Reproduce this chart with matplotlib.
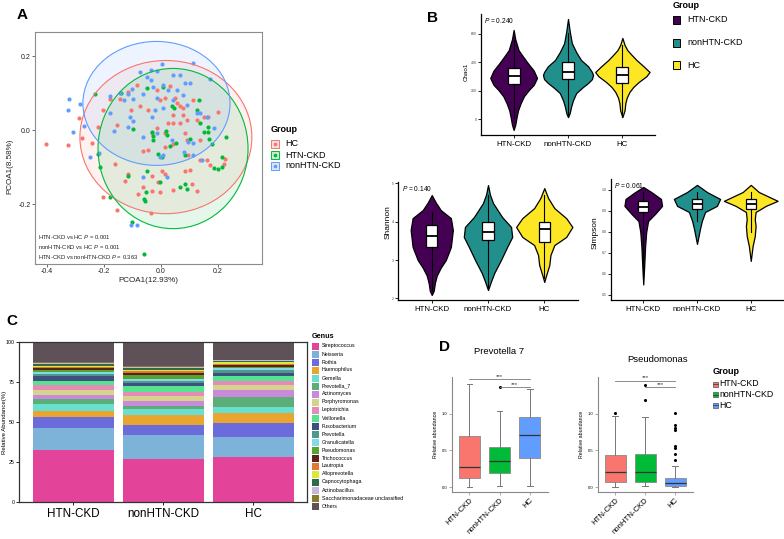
import numpy as np
import matplotlib
matplotlib.use("Agg")
import matplotlib.pyplot as plt
from matplotlib.patches import Ellipse, Rectangle

plt.rcParams['font.family'] = ['Liberation Sans', 'DejaVu Sans']
plt.rcParams['mathtext.fontset'] = 'custom'
plt.rcParams['mathtext.it'] = 'Liberation Sans:italic'
plt.rcParams['mathtext.rm'] = 'Liberation Sans'

groups = ['HTN-CKD', 'nonHTN-CKD', 'HC']

# ---- A: PCoA ----
hc_pc1 = [-0.404, -0.325, -0.288, -0.278, -0.241, -0.220, -0.202, -0.179, -0.156, -0.115,
          -0.105, -0.085, -0.074, -0.044, -0.015, -0.004, 0.014, 0.032, 0.049, 0.055,
          0.067, 0.078, 0.043, 0.076, 0.090, 0.067, 0.026, 0.014, -0.015, -0.033,
          0.014, -0.062, -0.047, 0.043, 0.084, 0.090, 0.125, 0.149, 0.166, 0.201,
          0.160, 0.172, 0.219, 0.225, 0.137, 0.096, 0.102, 0.084, 0.002, 0.014,
          -0.009, -0.004, -0.033, -0.080, -0.062, -0.126, -0.161, -0.202, -0.156, -0.035,
          0.108, 0.127, 0.043, -0.144, 0.137, 0.113, 0.043, -0.033, -0.117]
hc_pc2 = [-0.039, -0.041, 0.032, -0.021, -0.034, 0.009, 0.054, 0.084, 0.014, 0.104,
          0.054, 0.123, 0.065, 0.054, 0.107, 0.082, 0.086, 0.118, 0.086, 0.073,
          0.065, 0.059, 0.041, 0.041, 0.027, 0.018, 0.018, -0.007, 0.005, -0.009,
          -0.045, -0.056, -0.054, -0.038, -0.009, -0.027, 0.027, 0.036, 0.034, 0.050,
          -0.082, -0.095, -0.091, -0.077, -0.082, -0.068, -0.109, -0.111, -0.111, -0.118,
          -0.141, -0.168, -0.165, -0.173, -0.154, -0.138, -0.093, -0.180, -0.216, -0.225,
          -0.145, -0.166, -0.162, 0.084, -0.027, 0.082, 0.018, -0.123, -0.118]
htn_pc1 = [-0.232, -0.142, -0.050, 0.008, 0.037, 0.046, 0.133, 0.125, -0.099, -0.033,
           -0.027, -0.029, 0.016, 0.020, 0.032, 0.051, 0.084, 0.102, 0.166, 0.168,
           0.180, 0.228, 0.213, 0.215, 0.201, -0.009, 0.005, -0.048, -0.004, -0.054,
           -0.060, -0.058, -0.117, -0.179, -0.214, -0.220, 0.067, 0.084, 0.092, -0.103,
           -0.060, 0.184, 0.149, 0.166, 0.137]
htn_pc2 = [0.097, 0.100, 0.115, 0.116, 0.064, 0.059, 0.080, 0.054, 0.002, -0.006,
           -0.015, -0.027, -0.002, -0.014, -0.044, -0.036, -0.068, -0.025, 0.009, -0.025,
           -0.038, -0.018, -0.073, -0.100, -0.104, -0.065, -0.073, -0.112, -0.141, -0.168,
           -0.186, -0.191, -0.123, -0.182, -0.100, -0.064, -0.154, -0.145, -0.159, -0.248,
           -0.336, -0.102, -0.005, -0.005, 0.018]
non_pc1 = [-0.322, -0.325, -0.284, -0.269, -0.310, -0.249, -0.218, -0.179, -0.144, -0.117,
           -0.103, -0.130, -0.097, -0.109, -0.117, -0.097, -0.074, -0.064, -0.050, -0.036,
           -0.015, -0.035, -0.027, -0.015, 0.005, 0.008, 0.026, 0.041, 0.067, 0.084,
           0.055, 0.102, 0.076, 0.113, 0.172, 0.090, 0.125, 0.160, 0.043, 0.008,
           -0.021, -0.033, -0.062, -0.015, 0.008, 0.037, 0.081, 0.113, 0.113, 0.143,
           0.020, -0.062, -0.106, -0.085, -0.164, 0.137, 0.184, 0.096, -0.004, -0.179]
non_pc2 = [0.084, 0.054, 0.070, 0.011, -0.005, -0.073, -0.061, 0.091, 0.100, 0.097,
           0.112, 0.082, 0.084, 0.036, 0.009, 0.025, 0.156, 0.098, 0.143, 0.162,
           0.159, 0.136, 0.116, 0.086, 0.179, 0.123, 0.109, 0.150, 0.150, 0.127,
           0.109, 0.127, 0.095, 0.180, 0.139, 0.068, 0.045, 0.036, 0.082, 0.059,
           0.054, 0.036, -0.018, -0.009, -0.068, -0.027, -0.059, -0.035, -0.068, -0.082,
           -0.127, -0.127, -0.256, -0.256, -0.002, 0.045, 0.005, -0.032, -0.073, 0.045]
# 95% ellipses: centre x, centre y, width, height
ell_hc = (0.017, -0.019, 0.603, 0.414)
ell_htn = (0.042, -0.050, 0.526, 0.433)
ell_non = (-0.016, 0.072, 0.516, 0.335)
pcoa_tests = ['HTN-CKD vs HC $\\it{P}$ = 0.001',
              'nonHTN-CKD vs HC $\\it{P}$ = 0.001',
              'HTN-CKD vs nonHTN-CKD $\\it{P}$ = 0.363']

# ---- B: alpha diversity violins (levels and half widths) ----
chao1_levels = [[625, 560, 484, 440, 393, 340, 288, 240, 204, 160, 112, 60, 14, -40, -77],
                [702, 620, 533, 470, 414, 370, 330, 309, 280, 253, 220, 182, 130, 84, 40, 14],
                [569, 520, 484, 450, 414, 370, 330, 300, 260, 225, 190, 150, 112, 60, 14]]
chao1_halfw = [[0, 0.03, 0.09, 0.17, 0.26, 0.37, 0.43, 0.37, 0.28, 0.19, 0.13, 0.08, 0.055, 0.03, 0],
               [0, 0.03, 0.07, 0.15, 0.24, 0.37, 0.44, 0.46, 0.44, 0.37, 0.26, 0.15, 0.09, 0.055, 0.03, 0],
               [0, 0.04, 0.09, 0.17, 0.26, 0.39, 0.5, 0.44, 0.3, 0.2, 0.13, 0.08, 0.055, 0.04, 0]]
chao1_box = [(246, 302, 358, 5, 555), (281, 330, 400, 14, 604), (253, 309, 365, 14, 520)]

shannon_levels = [[4.69, 4.5, 4.30, 4.09, 3.78, 3.34, 3.0, 2.8, 2.6, 2.4, 2.2, 2.09],
                  [4.95, 4.7, 4.48, 4.12, 3.86, 3.6, 3.34, 3.0, 2.66, 2.45, 2.22],
                  [4.87, 4.61, 4.35, 4.09, 3.86, 3.60, 3.39, 3.13, 2.87, 2.61, 2.43]]
shannon_halfw = [[0, 0.07, 0.16, 0.34, 0.375, 0.34, 0.25, 0.16, 0.09, 0.055, 0.035, 0],
                 [0, 0.035, 0.09, 0.25, 0.41, 0.43, 0.34, 0.23, 0.11, 0.055, 0],
                 [0, 0.07, 0.18, 0.39, 0.5, 0.39, 0.18, 0.11, 0.09, 0.035, 0]]
shannon_box = [(3.34, 3.62, 3.91, 2.2, 4.25), (3.52, 3.73, 3.99, 2.3, 4.7), (3.47, 3.81, 3.99, 2.53, 4.69)]

simpson_levels = [[1.014, 0.99, 0.957, 0.924, 0.886, 0.852, 0.8, 0.733, 0.65, 0.55],
                  [1.024, 0.99, 0.957, 0.924, 0.895, 0.852, 0.814, 0.743],
                  [1.024, 0.99, 0.948, 0.924, 0.895, 0.86, 0.829, 0.781, 0.733, 0.662]]
simpson_halfw = [[0, 0.15, 0.33, 0.35, 0.22, 0.09, 0.055, 0.035, 0.02, 0],
                 [0, 0.185, 0.43, 0.37, 0.15, 0.09, 0.055, 0],
                 [0, 0.15, 0.5, 0.28, 0.09, 0.075, 0.09, 0.075, 0.035, 0]]
simpson_box = [(0.895, 0.919, 0.948, 0.58, 0.99), (0.91, 0.933, 0.957, 0.85, 0.99), (0.91, 0.935, 0.957, 0.80, 0.99)]
alpha_p = ['0.240', '0.140', '0.061']

# ---- C: genus composition (%) ----
genera = ['Streptococcus', 'Neisseria', 'Rothia', 'Haemophilus', 'Gemella', 'Prevotella_7',
          'Actinomyces', 'Porphyromonas', 'Leptotrichia', 'Veillonella', 'Fusobacterium',
          'Prevotella', 'Granulicatella', 'Pseudomonas', 'Trichococcus', 'Lautropia',
          'Alloprevotella', 'Capnocytophaga', 'Actinobacillus',
          'Saccharimonadaceae unclassified', 'Others']
htn_ab = [32.4, 13.6, 6.9, 4.2, 4.2, 2.9, 2.7, 3.2, 3.1, 2.5, 2.8, 1.4, 1.5, 1.2, 1.1, 0.6, 0.8, 0.9, 0.6, 0.6, 12.8]
non_ab = [26.6, 15.2, 6.3, 6.3, 3.5, 2.1, 3.4, 3.1, 2.5, 3.2, 2.1, 1.4, 1.1, 2.7, 1.0, 1.1, 1.0, 0.9, 0.8, 0.8, 14.9]
hc_ab = [28.2, 12.6, 8.8, 5.8, 4.2, 5.9, 4.2, 3.3, 2.7, 2.8, 2.0, 1.7, 1.3, 0.8, 1.5, 0.6, 1.0, 0.7, 0.4, 0.4, 11.1]
genus_colors = ['#E4439A', '#7DB3D8', '#6B6BDB', '#E8A630', '#6ADFCF', '#5BAE78', '#C98ADB',
                '#D6D48C', '#E68AB8', '#55E38F', '#3E4F80', '#4E9A88', '#82D9EC', '#56A32F',
                '#5A2218', '#E0783A', '#DCE83A', '#2F6B44', '#C9B5E2', '#8A7B2B', '#5E5258']

# ---- D: differential genera (relative abundance) ----
prev_box = [(0.13, 0.28, 0.69, 0.0, 1.40), (0.19, 0.36, 0.55, 0.01, 1.04), (0.39, 0.71, 0.95, 0.01, 1.34)]
prev_fliers = [[], [1.36], []]
pseu_box = [(0.07, 0.20, 0.44, 0.0, 0.97), (0.07, 0.20, 0.45, 0.02, 0.95), (0.02, 0.06, 0.13, 0.0, 0.29)]
pseu_fliers = [[1.01], [1.19, 1.39], [1.01, 0.85, 0.81, 0.78, 0.56, 0.53, 0.45, 0.37]]
prev_sig = [(1, 3, 1.47), (2, 3, 1.36)]
pseu_sig = [(1, 3, 1.45), (2, 3, 1.36)]

pc_cols = {'HC': '#F8766D', 'HTN-CKD': '#00BA38', 'nonHTN-CKD': '#619CFF'}
vio_cols = ['#440154', '#21908C', '#FDE725']
box_cols = ['#F8766D', '#00BA38', '#619CFF']

W, H = 784, 539
fig = plt.figure(figsize=(W / 100, H / 100), dpi=100)


def px_axes(x0, y0, x1, y1):
    return fig.add_axes([x0 / W, 1 - y1 / H, (x1 - x0) / W, (y1 - y0) / H])


# ---------------- A ----------------
axA = px_axes(35, 32, 262, 264)
for g, e in [('HC', ell_hc), ('HTN-CKD', ell_htn), ('nonHTN-CKD', ell_non)]:
    axA.add_patch(Ellipse(e[:2], e[2], e[3], fc=pc_cols[g], alpha=0.1, ec='none', zorder=1))
    axA.add_patch(Ellipse(e[:2], e[2], e[3], fc='none', ec=pc_cols[g], lw=0.8, zorder=3))
axA.scatter(hc_pc1, hc_pc2, s=9, color=pc_cols['HC'], lw=0, zorder=2)
axA.scatter(htn_pc1, htn_pc2, s=9, color=pc_cols['HTN-CKD'], lw=0, zorder=2)
axA.scatter(non_pc1, non_pc2, s=9, color=pc_cols['nonHTN-CKD'], lw=0, zorder=2)
axA.set_xlim(-0.442, 0.354)
axA.set_ylim(-0.362, 0.265)
axA.set_xticks([-0.4, -0.2, 0.0, 0.2])
axA.set_xticklabels(['-0.4', '-0.2', '0.0', '0.2'])
axA.set_yticks([-0.2, 0.0, 0.2])
axA.set_yticklabels(['-0.2', '0.0', '0.2'])
axA.tick_params(labelsize=5, length=2, width=0.6, color='#555555', labelcolor='#222222', pad=1)
for sp in axA.spines.values():
    sp.set_color('#8C8C8C')
    sp.set_linewidth(0.8)
for i, t in enumerate(pcoa_tests):
    axA.text(0.015, 0.115 - i * 0.043, t, transform=axA.transAxes, fontsize=4.2, va='center', color='#222222')


# ---------------- B ----------------
def violins(ax, levels, halfw, boxes, bw):
    for i in range(3):
        pos = i + 1
        lv = np.array(levels[i])
        hw = np.array(halfw[i])
        ax.fill_betweenx(lv, pos - hw, pos + hw, fc=vio_cols[i], ec='black', lw=0.9, zorder=2)
        q1, med, q3, lo, hi = boxes[i]
        st = [dict(med=med, q1=q1, q3=q3, whislo=lo, whishi=hi, fliers=[])]
        ax.bxp(st, positions=[pos], widths=bw, patch_artist=True, showcaps=False,
               boxprops=dict(fc='white', ec='black', lw=0.9),
               medianprops=dict(color='black', lw=1.3),
               whiskerprops=dict(color='black', lw=0.8), manage_ticks=False, zorder=3)
    ax.set_xlim(0.4, 3.6)
    ax.set_xticks([1, 2, 3])
    ax.set_xticklabels(groups)
    ax.spines['top'].set_visible(False)
    ax.spines['right'].set_visible(False)
    for s in ('left', 'bottom'):
        ax.spines[s].set_linewidth(0.9)
    ax.tick_params(axis='x', labelsize=5.7, length=2, width=0.6, pad=2.5)
    ax.tick_params(axis='y', labelsize=2.5, length=2, width=0.6, pad=1, labelcolor='#444444')


axB1 = px_axes(481, 14, 655, 135)
violins(axB1, chao1_levels, chao1_halfw, chao1_box, 0.22)
axB1.set_ylim(-112, 737)
axB1.set_yticks([0, 200, 400, 600])

axB2 = px_axes(398, 182, 578, 300)
violins(axB2, shannon_levels, shannon_halfw, shannon_box, 0.2)
axB2.set_ylim(1.96, 5.03)
axB2.set_yticks([2, 3, 4, 5])

axB3 = px_axes(611, 179, 783, 300)
violins(axB3, simpson_levels, simpson_halfw, simpson_box, 0.19)
axB3.set_ylim(0.476, 1.052)
axB3.set_yticks([0.5, 0.6, 0.7, 0.8, 0.9, 1.0])

for ax, p in zip([axB1, axB2, axB3], alpha_p):
    ax.text(0.02, 0.985, '$\\it{P}$ = ' + p, transform=ax.transAxes, fontsize=4.8, va='top', ha='left')

# ---------------- C ----------------
axC = px_axes(19, 342, 307, 502)
comp = np.array([htn_ab, non_ab, hc_ab])
bottom = np.zeros(3)
for j, gname in enumerate(genera):
    axC.bar([0, 1, 2], comp[:, j], bottom=bottom, width=0.9, color=genus_colors[j], lw=0)
    bottom += comp[:, j]
axC.set_xlim(-0.6, 2.6)
axC.set_ylim(0, 100)
axC.set_xticks([0, 1, 2])
axC.set_xticklabels(groups)
axC.set_yticks([0, 25, 50, 75, 100])
axC.tick_params(axis='x', labelsize=8.4, length=2, width=0.6, pad=2)
axC.tick_params(axis='y', labelsize=3.8, length=2, width=0.6, pad=1)
for sp in axC.spines.values():
    sp.set_color('#333333')
    sp.set_linewidth(0.9)


# ---------------- D ----------------
def boxpanel(ax, boxes, fliers, sig):
    st = []
    for i in range(3):
        q1, med, q3, lo, hi = boxes[i]
        st.append(dict(med=med, q1=q1, q3=q3, whislo=lo, whishi=hi, fliers=fliers[i]))
    parts = ax.bxp(st, positions=[1, 2, 3], widths=0.7, patch_artist=True, showcaps=True, capwidths=0.18,
                   medianprops=dict(color='#333333', lw=0.9),
                   whiskerprops=dict(color='#777777', lw=0.7),
                   capprops=dict(color='#777777', lw=0.7),
                   flierprops=dict(marker='o', ms=1.2, mfc='black', mec='black'),
                   boxprops=dict(lw=0.6), manage_ticks=False)
    for b, c in zip(parts['boxes'], box_cols):
        b.set_facecolor(c)
        b.set_edgecolor('#8a8a8a')
    for a, b, y in sig:
        ax.plot([a, b], [y, y], color='#777777', lw=0.6, clip_on=False)
        ax.text((a + b) / 2, y + 0.005, '***', ha='center', va='bottom', fontsize=4.5, color='#333333')
    ax.set_xlim(0.43, 3.6)
    ax.set_ylim(-0.067, 1.5)
    ax.set_xticks([1, 2, 3])
    ax.set_xticklabels(groups, rotation=45, ha='right', rotation_mode='anchor')
    ax.set_yticks([0, 0.5, 1.0])
    ax.set_yticklabels(['0.0', '0.5', '1.0'])
    ax.spines['top'].set_visible(False)
    ax.spines['right'].set_visible(False)
    for s in ('left', 'bottom'):
        ax.spines[s].set_color('#888888')
        ax.spines[s].set_linewidth(0.8)
    ax.tick_params(axis='x', labelsize=5.6, length=2, width=0.5, color='#888888', pad=1.5)
    ax.tick_params(axis='y', labelsize=3, length=2, width=0.5, color='#888888', pad=1)
    ax.set_ylabel('Relative abundance', fontsize=3.8, labelpad=3)


axD1 = px_axes(452, 377, 548, 492)
boxpanel(axD1, prev_box, prev_fliers, prev_sig)
axD2 = px_axes(598, 377, 693, 492)
boxpanel(axD2, pseu_box, pseu_fliers, pseu_sig)

# ---------------- overlay: labels & legends in pixel space ----------------
ov = fig.add_axes([0, 0, 1, 1], zorder=10)
ov.set_xlim(0, W)
ov.set_ylim(H, 0)
ov.axis('off')
ov.patch.set_alpha(0)

for s, x, y in [('A', 17, 15), ('B', 427, 18), ('C', 6, 321), ('D', 439, 347)]:
    ov.text(x, y, s, fontsize=11, fontweight='bold', va='center', ha='left')

ov.text(148, 280, 'PCOA1(12.93%)', fontsize=5.8, ha='center', va='center', color='#222222')
ov.text(10, 166, 'PCOA1(8.58%)', fontsize=5.8, ha='center', va='center', rotation=90, color='#222222')
ov.text(271, 129, 'Group', fontsize=6.5, fontweight='bold', va='center')
for i, g in enumerate(['HC', 'HTN-CKD', 'nonHTN-CKD']):
    y = 144 + i * 11
    ov.add_patch(Rectangle((271, y - 4.5), 9, 9, fc='#F2F2F2', ec='none'))
    ov.add_patch(Rectangle((271.5, y - 4), 8, 8, fc=pc_cols[g], alpha=0.15, ec='none'))
    ov.add_patch(Rectangle((271.5, y - 4), 8, 8, fc='none', ec=pc_cols[g], lw=0.7))
    ov.plot([275.5], [y], 'o', ms=1.6, color=pc_cols[g])
    ov.text(285, y, g, fontsize=6.5, va='center')

ov.text(466, 72, 'Chao1', fontsize=4.5, ha='center', va='center', rotation=90)
ov.text(388, 222, 'Shannon', fontsize=6, ha='center', va='center', rotation=90)
ov.text(595, 233, 'Simpson', fontsize=6, ha='center', va='center', rotation=90)
ov.text(673, 6, 'Group', fontsize=6.5, fontweight='bold', va='center')
for i, g in enumerate(groups):
    y = 20 + i * 22.5
    ov.add_patch(Rectangle((673, y - 4), 7.5, 8, fc=vio_cols[i], ec='black', lw=0.7))
    ov.text(687, y, g, fontsize=6.5, va='center')

ov.text(5, 422, 'Relative Abundance(%)', fontsize=4.3, ha='center', va='center', rotation=90)
ov.text(312, 336, 'Genus', fontsize=5.2, fontweight='bold', va='center')
for i, gname in enumerate(genera):
    y = 346 + i * 8
    ov.add_patch(Rectangle((312, y - 3.5), 7, 7, fc=genus_colors[i], ec='none'))
    ov.text(322, y, gname, fontsize=3.8, va='center')

ov.text(499, 352, 'Prevotella 7', fontsize=6.8, ha='center', va='center')
ov.text(658, 360, 'Pseudomonas', fontsize=6.8, ha='center', va='center')
ov.text(713, 372, 'Group', fontsize=6.5, fontweight='bold', va='center')
for i, g in enumerate(groups):
    y = 384 + i * 10.7
    ov.add_patch(Rectangle((713, y - 2.5), 5, 5, fc=box_cols[i], ec='#555555', lw=0.5))
    ov.plot([713, 718], [y, y], color='#333333', lw=0.5)
    ov.text(719.5, y, g, fontsize=6.3, va='center')

fig.savefig('out.png', dpi=100)
